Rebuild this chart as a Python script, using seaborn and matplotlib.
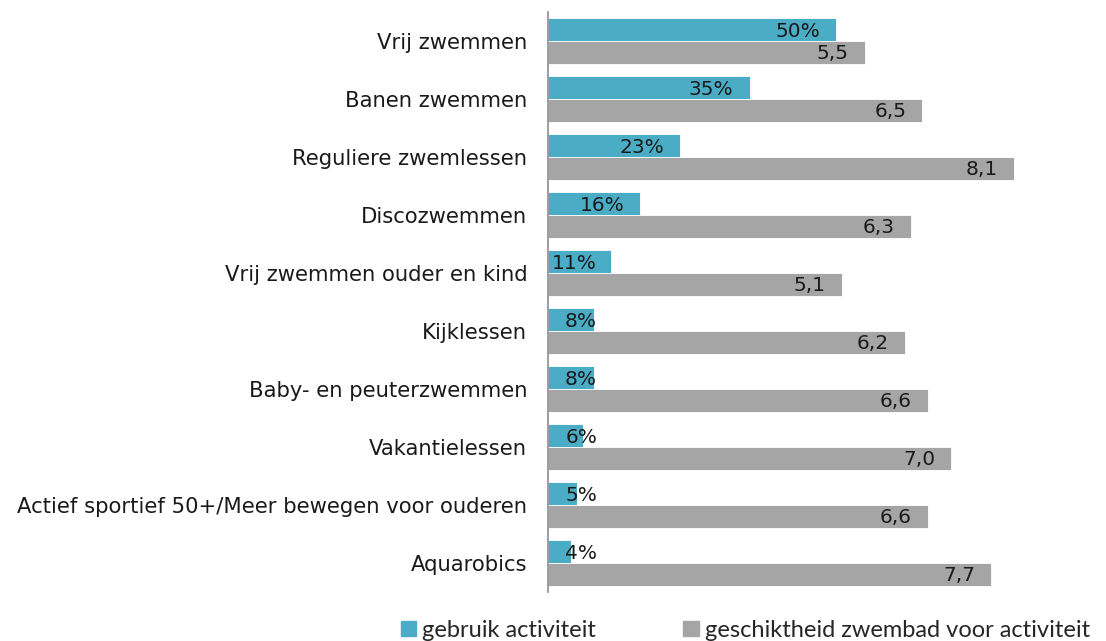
import pandas as pd
import matplotlib.pyplot as plt
import seaborn as sns
from matplotlib.patches import Patch

categories = ["Vrij zwemmen", "Banen zwemmen", "Reguliere zwemlessen", "Discozwemmen",
              "Vrij zwemmen ouder en kind", "Kijklessen", "Baby- en peuterzwemmen",
              "Vakantielessen", "Actief sportief 50+/Meer bewegen voor ouderen", "Aquarobics"]
gebruik = [50, 35, 23, 16, 11, 8, 8, 6, 5, 4]          # percent
geschiktheid = [5.5, 6.5, 8.1, 6.3, 5.1, 6.2, 6.6, 7.0, 6.6, 7.7]  # score 1-10
series = ["gebruik activiteit", "geschiktheid zwembad voor activiteit"]
colors = ["#4BACC6", "#A5A5A5"]

# grey scores share the axis with percentages (score x 10)
df = pd.DataFrame({
    "cat": categories * 2,
    "val": gebruik + [g * 10 for g in geschiktheid],
    "serie": [series[0]] * len(categories) + [series[1]] * len(categories),
})

sns.set_style("white")
plt.rcParams["font.family"] = ["DejaVu Sans"]
fig = plt.figure(figsize=(11.06, 6.41), dpi=100)
ax = fig.add_axes([0.4955, 0.0764, 0.4685, 0.905])

sns.barplot(data=df, y="cat", x="val", hue="serie", palette=colors, orient="h",
            width=0.78, gap=0, saturation=1, edgecolor="white", linewidth=0.6,
            legend=False, ax=ax)

ax.set_xlim(0, 90)
ax.set_ylim(len(categories) - 0.5, -0.5)
ax.set_xlabel("")
ax.set_ylabel("")
ax.set_xticks([])
for s in ["top", "right", "bottom"]:
    ax.spines[s].set_visible(False)
ax.spines["left"].set_color("#8C8C8C")
ax.spines["left"].set_linewidth(1.2)
ax.tick_params(axis="y", which="major", length=0, pad=15, labelsize=15.2, labelcolor="#1a1a1a")
ax.set_yticks([i + 0.5 for i in range(-1, len(categories))], minor=True)
ax.tick_params(axis="y", which="minor", length=6, color="#8C8C8C", width=1.2)

pad_pt = -16 * 0.72
labels_sets = [[f"{v}%" for v in gebruik], [f"{v:.1f}".replace(".", ",") for v in geschiktheid]]
for cont, labs in zip(ax.containers, labels_sets):
    for bar, lab in zip(cont, labs):
        end = bar.get_x() + bar.get_width()
        x = max(end, 11.3)
        ax.annotate(lab, (x, bar.get_y() + bar.get_height() / 2), xytext=(pad_pt, -1),
                    textcoords="offset points", ha="right", va="center",
                    fontsize=14.5, color="#1a1a1a")

handles = [Patch(color=c, label=s) for c, s in zip(colors, series)]
fig.legend(handles=handles, loc="lower center", bbox_to_anchor=(0.674, -0.033), ncol=2,
           frameon=False, handlelength=0.65, handleheight=0.65, handletextpad=0.25,
           columnspacing=3.7, prop={"family": "Lato", "size": 17})

fig.savefig("out.png", dpi=100)
